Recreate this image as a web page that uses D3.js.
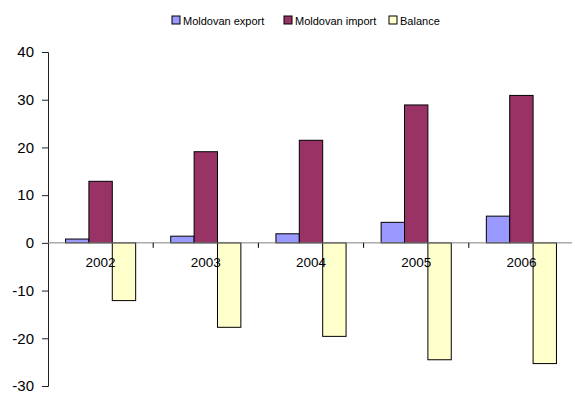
<!DOCTYPE html>
<html lang="en">
<head>
  <meta charset="UTF-8">
  <title>Moldovan trade</title>
  <script src="https://d3js.org/d3.v7.min.js"></script>
  <style>
    body { margin: 0; background: #fff; font-family: 'Liberation Sans', Arial, sans-serif; }
    svg { display: block; }
  </style>
</head>
<body>
  <script>
    // Data
    const years = ["2002", "2003", "2004", "2005", "2006"];
    const seriesNames = ["Moldovan export", "Moldovan import", "Balance"];
    const exportVals = [0.8, 1.4, 1.9, 4.3, 5.6];
    const importVals = [12.9, 19.1, 21.5, 28.9, 30.9];
    const balanceVals = [-12.1, -17.7, -19.6, -24.5, -25.3];
    const yTicks = [-30, -20, -10, 0, 10, 20, 30, 40];
    const colors = ["#9999FF", "#993366", "#FFFFCC"];

    const width = 572, height = 393;
    const svg = d3.select("body").append("svg")
      .attr("width", width)
      .attr("height", height);

    const x0 = d3.scaleBand().domain(years).range([48, 574]);
    // gap between groups is 1.5 bar widths
    const x1 = d3.scaleBand().domain(seriesNames)
      .range([0, x0.bandwidth()]).paddingOuter(0.75).paddingInner(0);
    const y = d3.scaleLinear().domain([-30, 40]).range([386, 52]);

    const rows = years.map((yr, i) => ({
      year: yr,
      values: [exportVals[i], importVals[i], balanceVals[i]]
    }));

    // bars
    const groups = svg.append("g").selectAll("g")
      .data(rows).enter().append("g")
      .attr("transform", d => `translate(${x0(d.year)},0)`);

    groups.selectAll("rect")
      .data(d => d.values.map((v, k) => ({ name: seriesNames[k], value: v, k })))
      .enter().append("rect")
      .attr("x", d => x1(d.name))
      .attr("y", d => y(Math.max(0, d.value)))
      .attr("width", x1.bandwidth())
      .attr("height", d => Math.abs(y(d.value) - y(0)))
      .attr("fill", d => colors[d.k])
      .attr("stroke", "#000")
      .attr("stroke-width", 1);

    // y axis
    const yAxis = svg.append("g")
      .attr("transform", "translate(48,0)")
      .call(d3.axisLeft(y).tickValues(yTicks).tickSize(6).tickPadding(8)
        .tickFormat(d => String(d)));
    yAxis.select(".domain").attr("stroke", "#222");
    yAxis.selectAll(".tick line").attr("stroke", "#222");
    yAxis.selectAll("text")
      .attr("font-family", "'Liberation Sans', Arial, sans-serif")
      .attr("font-size", 15).attr("fill", "#000");

    // x axis at zero
    const xAxis = svg.append("g")
      .attr("transform", `translate(0,${y(0)})`);
    xAxis.append("line")
      .attr("x1", 48).attr("x2", 574)
      .attr("stroke", "#808080");
    xAxis.selectAll(".ctick")
      .data(years.slice(1)).enter().append("line")
      .attr("x1", d => x0(d)).attr("x2", d => x0(d))
      .attr("y1", 0).attr("y2", 5)
      .attr("stroke", "#000");
    xAxis.selectAll(".clabel")
      .data(years).enter().append("text")
      .attr("x", d => x0(d) + x0.bandwidth() / 2)
      .attr("y", 24.5)
      .attr("text-anchor", "middle")
      .attr("font-size", 13.5)
      .attr("fill", "#000")
      .text(d => d);

    // legend
    const legendX = [172, 284, 389];
    const legend = svg.append("g");
    seriesNames.forEach((name, k) => {
      legend.append("rect")
        .attr("x", legendX[k]).attr("y", 16)
        .attr("width", 8).attr("height", 8)
        .attr("fill", colors[k])
        .attr("stroke", "#000").attr("stroke-width", 1);
      legend.append("text")
        .attr("x", legendX[k] + 11).attr("y", 24.5)
        .attr("font-size", 11).attr("fill", "#000")
        .text(name);
    });
  </script>
</body>
</html>
